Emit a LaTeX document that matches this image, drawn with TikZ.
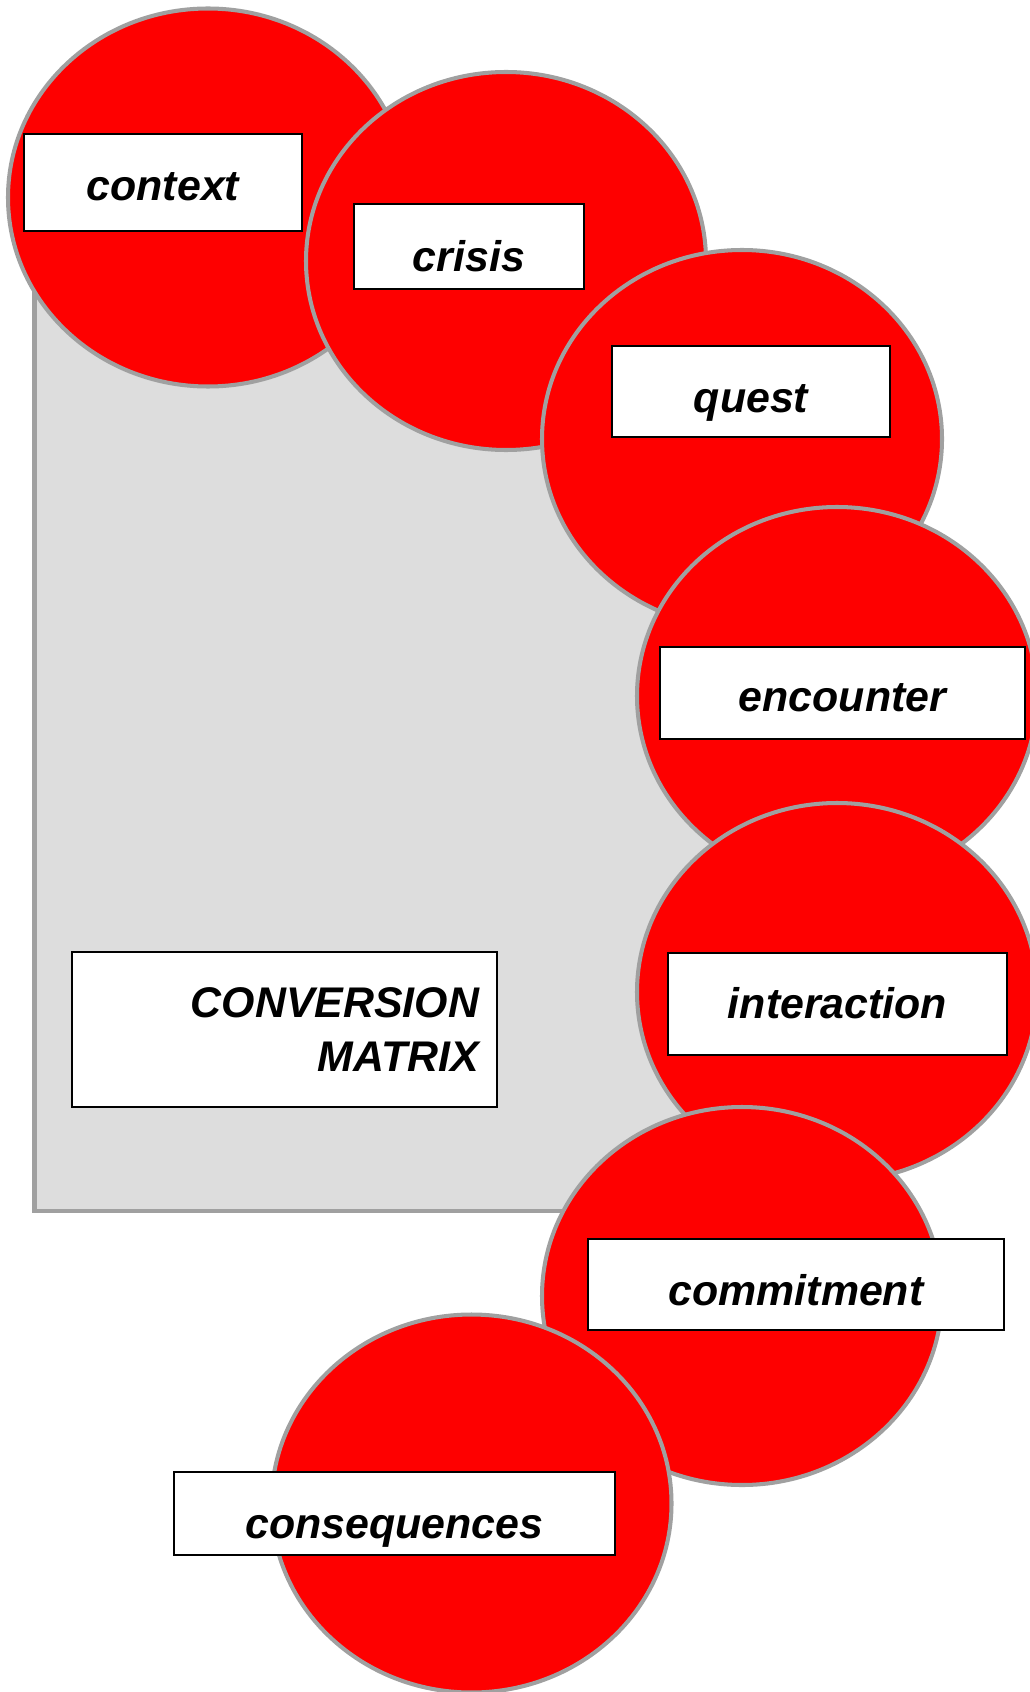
\documentclass[tikz,border=0pt]{standalone}
\usepackage{fontspec}
\setmainfont{Liberation Sans}
\usepackage{xcolor}
\usetikzlibrary{shapes.geometric}
\definecolor{discred}{HTML}{FE0000}
\definecolor{rimgray}{HTML}{A0A0A0}
\definecolor{panelgray}{HTML}{DDDDDD}

\begin{document}
\begin{tikzpicture}[
  disc/.style={ellipse,draw=rimgray,line width=2.3pt,fill=discred,
     minimum width=8cm,minimum height=7.56cm,inner sep=0pt},
  lbl/.style={draw=black,line width=1.1pt,fill=white,
     font=\fontsize{24.4}{31}\selectfont\bfseries\itshape},
  tag/.style={lbl,inner sep=0pt,text height=29pt,text depth=#1},
  tag/.default=0pt,
  panel/.style={fill=panelgray,draw=rimgray,line width=2.3pt}]
\useasboundingbox (0,0) rectangle (20.58,-33.84);
\draw[panel] (0.69,-5.5) rectangle (15.2,-24.22);
\node[disc] (context) at (4.16,-3.95) {};
\node[tag=8pt,minimum width=5.57cm,minimum height=1.94cm] (context-t) at (3.26,-3.65) {context};
\node[disc] (crisis) at (10.12,-5.22) {};
\node[tag,minimum width=4.60cm,minimum height=1.70cm] (crisis-t) at (9.38,-4.93) {crisis};
\node[disc] (quest) at (14.84,-8.78) {};
\node[tag=4.6pt,minimum width=5.57cm,minimum height=1.82cm] (quest-t) at (15.02,-7.83) {quest};
\node[disc] (encounter) at (16.74,-13.92) {};
\node[tag=7.4pt,minimum width=7.30cm,minimum height=1.84cm] (encounter-t) at (16.85,-13.86) {encounter};
\node[disc] (interaction) at (16.74,-19.84) {};
\node[tag=12pt,minimum width=6.78cm,minimum height=2.04cm] (interaction-t) at (16.75,-20.08) {interaction};
\node[disc] (commitment) at (14.84,-25.92) {};
\node[tag=4.6pt,minimum width=8.32cm,minimum height=1.82cm] (commitment-t) at (15.92,-25.69) {commitment};
\node[disc] (conseq) at (9.43,-30.07) {};
\node[tag,minimum width=8.82cm,minimum height=1.66cm] (conseq-t) at (7.89,-30.27) {consequences};
\node[lbl,inner xsep=0.36cm,inner ysep=0pt,text width=7.78cm,align=right,
  minimum height=3.10cm] (conv) at (5.69,-20.59) {CONVERSION\\ MATRIX};
\end{tikzpicture}
\end{document}
